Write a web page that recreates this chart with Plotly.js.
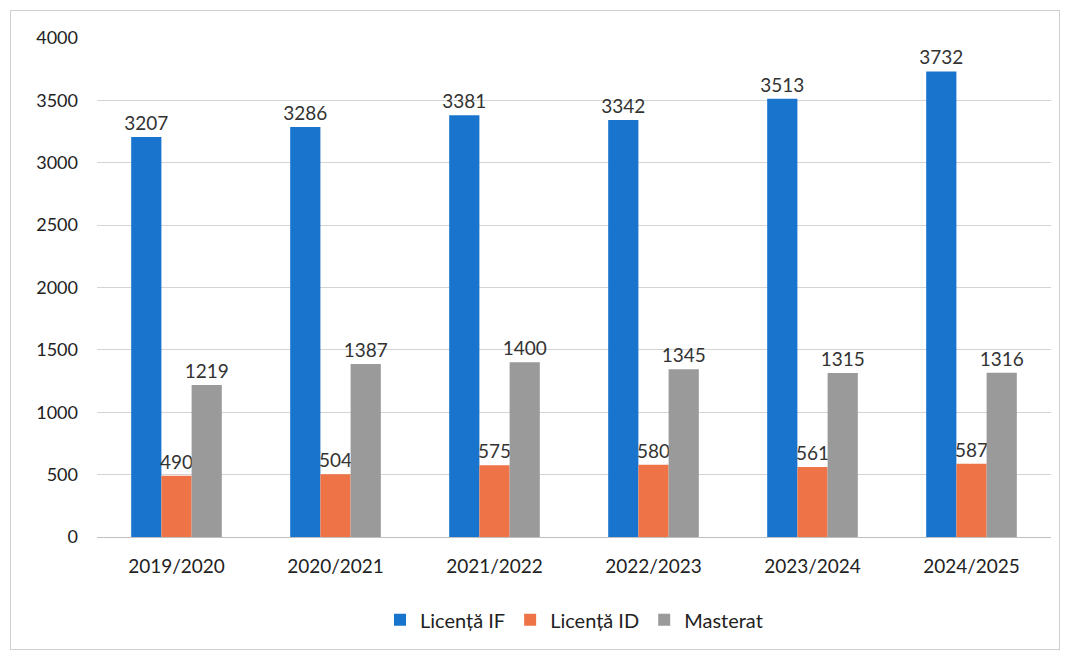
<!DOCTYPE html>
<html><head><meta charset="utf-8">
<script src="https://cdn.plot.ly/plotly-3.0.1.min.js"></script>
<style>
body{margin:0;background:#fff;}
#wrap{position:relative;width:1066px;height:653px;}
#frame{position:absolute;left:10px;top:10px;width:1050px;height:640px;border:1px solid #d0d0d0;box-sizing:border-box;pointer-events:none;}
#chart{position:absolute;left:0;top:0;width:1066px;height:653px;}
</style>
</head><body>
<div id="wrap"><div id="chart"></div><div id="frame"></div></div>
<script>
const years = ["2019/2020","2020/2021","2021/2022","2022/2023","2023/2024","2024/2025"];
const licentaIF = [3207,3286,3381,3342,3513,3732];
const licentaID = [490,504,575,580,561,587];
const masterat = [1219,1387,1400,1345,1315,1316];
const seriesNames = ["Licență IF","Licență ID","Masterat"];
const yTicks = [0,500,1000,1500,2000,2500,3000,3500,4000];

const colors = ["#1874cd","#ee7346","#9a9a9a"];
const font = "Lato, 'Open Sans', sans-serif";
const mk = (y,i) => ({
  type:"bar", x:years, y:y, name:seriesNames[i],
  marker:{color:colors[i]},
  text:y.map(String), textposition:"outside", cliponaxis:false, constraintext:"none",
  textfont:{size:19,color:"#333",family:font}
});
const data = [mk(licentaIF,0), mk(licentaID,1), mk(masterat,2)];
const layout = {
  width:1066, height:653,
  margin:{l:97,r:15,t:38,b:116},
  barmode:"group", bargap:0.43, bargroupgap:0,
  paper_bgcolor:"#fff", plot_bgcolor:"#fff",
  font:{family:font,size:18,color:"#222"},
  xaxis:{showgrid:false, zeroline:false, showline:true, linecolor:"#bfbfbf", ticks:"", ticklabelstandoff:12, tickfont:{size:19,color:"#222"}},
  yaxis:{range:[0,4000], tickvals:yTicks, showgrid:true, gridcolor:"#d4d4d4", zeroline:false, showline:false, ticks:"", ticklabelstandoff:18, tickfont:{size:18,color:"#222"}},
  legend:{orientation:"h", x:0.5, xanchor:"center", y:-0.166, yanchor:"middle", font:{size:20,color:"#222"}, itemwidth:30, traceorder:"normal"},
  showlegend:true
};
Plotly.newPlot("chart", data, layout, {displayModeBar:false, staticPlot:true});
</script>
</body></html>
